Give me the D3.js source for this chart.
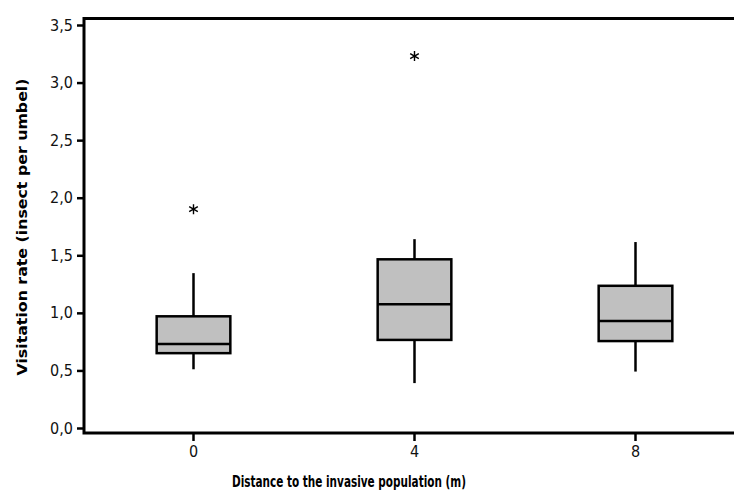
<!DOCTYPE html>
<html>

<head>
    <meta charset="utf-8" />
    <title>Visitation rate box plot</title>
    <style>
        body {
            margin: 0;
            background: #fff;
        }

        svg {
            display: block;
        }

        .tick text {
            font-family: "DejaVu Sans Condensed", "DejaVu Sans", sans-serif;
            font-size: 16px;
            fill: #111;
        }

        .title {
            font-family: "DejaVu Sans", sans-serif;
            font-weight: bold;
            font-size: 14px;
            fill: #000;
        }
    </style>
</head>

<body>
    <div id="chart"></div>
    <script src="https://cdn.jsdelivr.net/npm/d3@7"></script>
    <script>
        // values
        var distances = ["0", "4", "8"];
        var q1 = [0.65, 0.765, 0.755];
        var medians = [0.73, 1.075, 0.93];
        var q3 = [0.97, 1.465, 1.235];
        var whiskerLow = [0.51, 0.39, 0.49];
        var whiskerHigh = [1.345, 1.64, 1.615];
        var outliers = [{ cat: "0", value: 1.9 }, { cat: "4", value: 3.23 }];
        var yTicks = [0, 0.5, 1, 1.5, 2, 2.5, 3, 3.5];

        var w = 734;
        var h = 493;

        var boxes = distances.map(function(d, i) {
            return {
                cat: d,
                q1: q1[i],
                med: medians[i],
                q3: q3[i],
                lo: whiskerLow[i],
                hi: whiskerHigh[i]
            };
        });

        var svg = d3.select("#chart").append("svg")
            .attr("width", w)
            .attr("height", h);

        var x = d3.scaleBand()
            .domain(distances)
            .range([83, 746]);

        var y = d3.scaleLinear()
            .domain([0, 3.5])
            .range([428, 25]);

        var boxW = x.bandwidth() / 3;
        var fmt = function(d) {
            return d3.format(".1f")(d).replace(".", ",");
        };

        // frame (right edge falls outside the picture)
        svg.append("rect")
            .attr("x", 84)
            .attr("y", 18.5)
            .attr("width", 700)
            .attr("height", 433 - 18.5)
            .attr("fill", "none")
            .attr("stroke", "#000")
            .attr("stroke-width", 3);

        // axes
        var yAxis = svg.append("g")
            .attr("transform", "translate(84,0)")
            .call(d3.axisLeft(y).tickValues(yTicks).tickFormat(fmt).tickSize(7).tickPadding(4));
        yAxis.select(".domain").remove();
        yAxis.selectAll(".tick line").attr("stroke", "#000").attr("stroke-width", 2.5);

        var xAxis = svg.append("g")
            .attr("transform", "translate(0,433)")
            .call(d3.axisBottom(x).tickSize(8).tickPadding(5));
        xAxis.select(".domain").remove();
        xAxis.selectAll(".tick line").attr("stroke", "#000").attr("stroke-width", 2.5);

        // whiskers
        svg.selectAll(".whisker")
            .data(boxes)
            .enter()
            .append("line")
            .attr("class", "whisker")
            .attr("x1", function(d) { return x(d.cat) + x.bandwidth() / 2; })
            .attr("x2", function(d) { return x(d.cat) + x.bandwidth() / 2; })
            .attr("y1", function(d) { return y(d.lo); })
            .attr("y2", function(d) { return y(d.hi); })
            .attr("stroke", "#000")
            .attr("stroke-width", 2.5);

        // boxes
        svg.selectAll(".box")
            .data(boxes)
            .enter()
            .append("rect")
            .attr("class", "box")
            .attr("x", function(d) { return x(d.cat) + x.bandwidth() / 2 - boxW / 2; })
            .attr("y", function(d) { return y(d.q3); })
            .attr("width", boxW)
            .attr("height", function(d) { return y(d.q1) - y(d.q3); })
            .attr("fill", "#c0c0c0")
            .attr("stroke", "#000")
            .attr("stroke-width", 2.5);

        // medians
        svg.selectAll(".median")
            .data(boxes)
            .enter()
            .append("line")
            .attr("class", "median")
            .attr("x1", function(d) { return x(d.cat) + x.bandwidth() / 2 - boxW / 2; })
            .attr("x2", function(d) { return x(d.cat) + x.bandwidth() / 2 + boxW / 2; })
            .attr("y1", function(d) { return y(d.med); })
            .attr("y2", function(d) { return y(d.med); })
            .attr("stroke", "#000")
            .attr("stroke-width", 2.5);

        // outliers as asterisks
        svg.selectAll(".outlier")
            .data(outliers)
            .enter()
            .append("path")
            .attr("class", "outlier")
            .attr("transform", function(d) {
                return "translate(" + (x(d.cat) + x.bandwidth() / 2) + "," + y(d.value) + ")";
            })
            .attr("d", d3.symbol().type(d3.symbolAsterisk).size(70))
            .attr("fill", "none")
            .attr("stroke", "#000")
            .attr("stroke-width", 1.4);

        // axis titles
        svg.append("text")
            .attr("class", "title")
            .attr("x", 349)
            .attr("y", 487)
            .attr("text-anchor", "middle")
            .attr("textLength", 234)
            .attr("lengthAdjust", "spacingAndGlyphs")
            .style("font-size", "15px")
            .text("Distance to the invasive population (m)");

        svg.append("text")
            .attr("class", "title")
            .attr("transform", "translate(27,227) rotate(-90)")
            .attr("text-anchor", "middle")
            .attr("textLength", 297)
            .attr("lengthAdjust", "spacingAndGlyphs")
            .text("Visitation rate (insect per umbel)");
    </script>
</body>

</html>
